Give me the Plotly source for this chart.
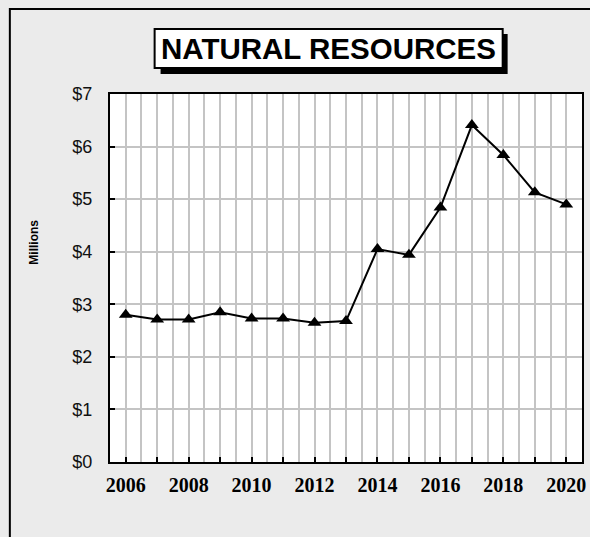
import plotly.graph_objects as go

years = list(range(2006, 2021))
values = [2.80, 2.71, 2.71, 2.85, 2.73, 2.73, 2.65, 2.68, 4.05, 3.94, 4.84, 6.41, 5.84, 5.13, 4.90]
year_labels = [str(y) if y % 2 == 0 else "" for y in years]
y_ticks = [0, 1, 2, 3, 4, 5, 6, 7]
y_labels = ["$%d" % v for v in y_ticks]

W, H = 590, 537
L, R, T, B = 110, 4, 94, 75
pw, ph = W - L - R, H - T - B


def px(x):
    return (x - L) / pw


def py(y):
    return (H - B - y) / ph


fig = go.Figure()
fig.add_trace(
    go.Scatter(
        x=years,
        y=values,
        mode="lines+markers",
        line=dict(color="black", width=2),
        marker=dict(symbol="triangle-up", size=12, color="black"),
        showlegend=False,
    )
)

grid = "#c4c4c4"
fig.update_xaxes(
    range=[2005.5, 2020.5],
    tickmode="array",
    tickvals=years,
    ticktext=year_labels,
    ticks="inside",
    ticklen=5,
    tickwidth=2,
    tickcolor="black",
    tickfont=dict(family="Liberation Serif", size=20, color="black", weight="bold"),
    showgrid=True,
    gridcolor=grid,
    gridwidth=2,
    minor=dict(tick0=2005.5, dtick=1, showgrid=True, gridcolor=grid, gridwidth=2, ticks=""),
    showline=True,
    linecolor="black",
    linewidth=2,
    mirror=True,
    zeroline=False,
    ticklabelstandoff=4,
)
fig.update_yaxes(
    range=[0, 7],
    tickmode="array",
    tickvals=y_ticks,
    ticktext=y_labels,
    ticks="inside",
    ticklen=5,
    tickwidth=2,
    tickcolor="black",
    tickfont=dict(family="Liberation Sans", size=18, color="#111"),
    showgrid=True,
    gridcolor=grid,
    gridwidth=2,
    showline=True,
    linecolor="black",
    linewidth=2,
    mirror=True,
    zeroline=False,
    ticklabelstandoff=12,
)

shapes = [
    # outer frame
    dict(type="rect", xref="paper", yref="paper", x0=px(9), x1=px(600), y0=py(9), y1=py(548),
         line=dict(color="black", width=2), fillcolor="rgba(0,0,0,0)", layer="below"),
    # title shadow
    dict(type="rect", xref="paper", yref="paper", x0=px(161), x1=px(511), y0=py(34), y1=py(74),
         line=dict(width=0), fillcolor="black"),
    # title box
    dict(type="rect", xref="paper", yref="paper", x0=px(155), x1=px(506), y0=py(29), y1=py(68),
         line=dict(color="black", width=2), fillcolor="white"),
]

annotations = [
    dict(text="NATURAL RESOURCES", xref="paper", yref="paper", x=px(330), y=py(48),
         xanchor="center", yanchor="middle", showarrow=False,
         font=dict(family="Liberation Sans", size=29.5, color="black", weight="bold")),
    dict(text="Millions", xref="paper", yref="paper", x=px(33), y=py(242),
         xanchor="center", yanchor="middle", showarrow=False, textangle=-90,
         font=dict(family="Liberation Sans", size=12, color="black", weight="bold")),
]

fig.update_layout(
    width=W,
    height=H,
    margin=dict(l=L, r=R, t=T, b=B),
    paper_bgcolor="#ebebeb",
    plot_bgcolor="white",
    shapes=shapes,
    annotations=annotations,
)

fig.write_html(
    "out.html",
    config={"displayModeBar": False},
    post_script="document.body.style.margin='0';document.body.style.overflow='hidden';",
)
